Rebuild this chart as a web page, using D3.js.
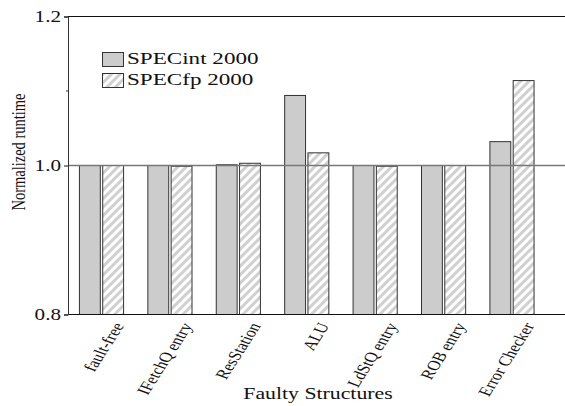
<!DOCTYPE html>
<html>
<head>
<meta charset="utf-8">
<script src="https://cdn.jsdelivr.net/npm/d3@7"></script>
<style>
  body { margin: 0; background: #fff; }
  svg { display: block; }
  text { font-family: 'Liberation Serif', 'Times New Roman', Times, serif; }
</style>
</head>
<body>
<div id="chart"></div>
<script>
const categories = ["fault-free", "IFetchQ entry", "ResStation", "ALU", "LdStQ entry", "ROB entry", "Error Checker"];
const seriesNames = ["SPECint 2000", "SPECfp 2000"];
const specInt = [1.000, 1.000, 1.001, 1.094, 1.000, 1.000, 1.032];
const specFp = [1.000, 0.999, 1.003, 1.017, 0.999, 1.000, 1.114];
const yTicks = [0.8, 1.0, 1.2];

const W = 565, H = 406;
const margin = { top: 16.5, left: 68, bottom: 91.5, right: 0 };
const plotBottom = H - margin.bottom;
const FONT = "Liberation Serif, Times New Roman, serif";
const SX = 1.32; // the original text is stretched wider than tall

const svg = d3.select("#chart").append("svg")
  .attr("width", W)
  .attr("height", H)
  .attr("font-family", FONT);

const defs = svg.append("defs");
const hatch = defs.append("pattern")
  .attr("id", "hatch")
  .attr("patternUnits", "userSpaceOnUse")
  .attr("width", 6)
  .attr("height", 6)
  .attr("patternTransform", "rotate(45)");
hatch.append("rect").attr("width", 6).attr("height", 6).attr("fill", "#fff");
hatch.append("rect").attr("x", 0).attr("width", 3).attr("height", 6).attr("fill", "#d0d0d0");

const x = d3.scaleBand()
  .domain(categories)
  .range([margin.left, 545.5])
  .paddingInner(0.34)
  .paddingOuter(0.16);

const xs = d3.scaleBand()
  .domain(seriesNames)
  .range([0, x.bandwidth()])
  .paddingInner(0.06);

const y = d3.scaleLinear()
  .domain([0.8, 1.2])
  .range([plotBottom, margin.top]);

const data = categories.map((c, i) => ({ cat: c, vals: [specInt[i], specFp[i]] }));
const fills = ["#cccccc", "url(#hatch)"];

// bars
const groups = svg.append("g").selectAll("g")
  .data(data)
  .join("g")
  .attr("transform", d => `translate(${x(d.cat)},0)`);

groups.selectAll("rect")
  .data(d => d.vals.map((v, k) => ({ key: seriesNames[k], v, k })))
  .join("rect")
  .attr("x", d => xs(d.key) + 0.5)
  .attr("y", d => y(d.v))
  .attr("width", xs.bandwidth() - 1)
  .attr("height", d => y(0.8) - y(d.v))
  .attr("fill", d => fills[d.k])
  .attr("stroke", "#333")
  .attr("stroke-width", 1);

// reference line at 1.0
svg.append("line")
  .attr("x1", margin.left).attr("x2", W)
  .attr("y1", y(1.0)).attr("y2", y(1.0))
  .attr("stroke", "#777")
  .attr("stroke-width", 1.5);

// top frame line
svg.append("line")
  .attr("x1", margin.left).attr("x2", W)
  .attr("y1", y(1.2)).attr("y2", y(1.2))
  .attr("stroke", "#111")
  .attr("stroke-width", 1);

// bottom axis line
svg.append("line")
  .attr("x1", margin.left).attr("x2", W)
  .attr("y1", y(0.8)).attr("y2", y(0.8))
  .attr("stroke", "#111")
  .attr("stroke-width", 1.2);

// y axis
const yAxis = svg.append("g")
  .attr("transform", `translate(${margin.left},0)`)
  .call(d3.axisLeft(y).tickValues(yTicks).tickFormat(d3.format(".1f")).tickSize(4).tickPadding(3));
yAxis.attr("font-family", FONT);
yAxis.select(".domain").attr("stroke", "#333");
yAxis.selectAll(".tick line").attr("stroke", "#111");
yAxis.selectAll(".tick text")
  .attr("x", 0)
  .attr("transform", `translate(-7,0) scale(${SX},1)`)
  .attr("font-size", 16)
  .attr("fill", "#111");

// minor tick at 1.1
svg.append("line")
  .attr("x1", margin.left - 2).attr("x2", margin.left)
  .attr("y1", y(1.1)).attr("y2", y(1.1))
  .attr("stroke", "#333");

// x labels
svg.append("g").selectAll("text")
  .data(categories)
  .join("text")
  .attr("transform", d => `translate(${x(d) + x.bandwidth() / 2 + 17},${plotBottom + 9}) scale(${SX},1) rotate(-64)`)
  .attr("text-anchor", "end")
  .attr("dy", "0.35em")
  .attr("font-size", 14)
  .attr("fill", "#111")
  .text(d => d);

// axis titles
svg.append("text")
  .attr("transform", `translate(318,399) scale(${SX},1)`)
  .attr("text-anchor", "middle")
  .attr("font-size", 16.5)
  .attr("fill", "#111")
  .text("Faulty Structures");

svg.append("text")
  .attr("transform", `translate(25,152) scale(${SX},1) rotate(-90)`)
  .attr("text-anchor", "middle")
  .attr("font-size", 14.5)
  .attr("fill", "#111")
  .text("Normalized runtime");

// legend
const legend = svg.append("g").attr("transform", "translate(102,52)");
const li = legend.selectAll("g")
  .data(seriesNames)
  .join("g")
  .attr("transform", (d, i) => `translate(0,${i * 21})`);
li.append("rect")
  .attr("x", 0.5).attr("y", 0.5)
  .attr("width", 21).attr("height", 14)
  .attr("fill", (d, i) => fills[i])
  .attr("stroke", "#333");
li.append("text")
  .attr("transform", `translate(25,12) scale(${SX},1)`)
  .attr("font-size", 17.5)
  .attr("fill", "#111")
  .text(d => d);
</script>
</body>
</html>
